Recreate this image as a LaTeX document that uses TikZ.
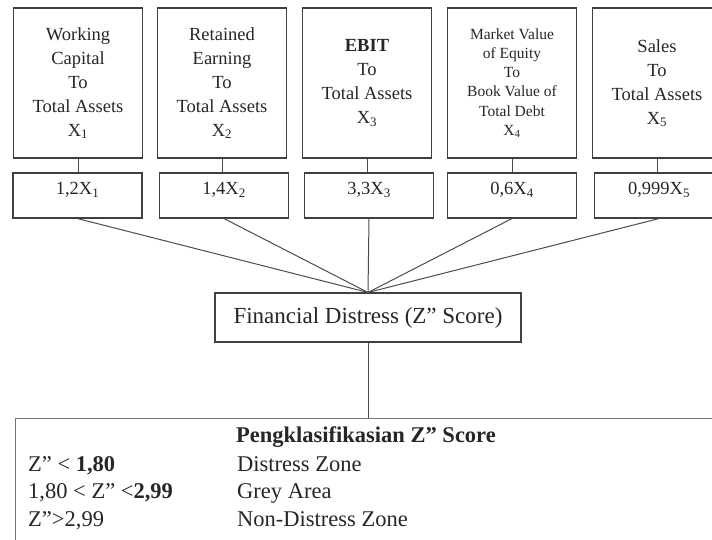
\documentclass[tikz,border=0pt]{standalone}
\usepackage{fontspec}
\setmainfont{Liberation Serif}
\begin{document}
\begin{tikzpicture}[x=1pt,y=-1pt,
  boxline/.style={draw=black!75, line width=1.1pt},
  topbox/.style={boxline, minimum width=129pt, minimum height=150pt, align=center,
    inner sep=0pt, text=black!85, font=\fontsize{18.5}{24}\selectfont},
  smallfont/.style={font=\fontsize{15.5}{19.2}\selectfont},
  valbox/.style={boxline, minimum width=129pt, minimum height=45pt, inner sep=0pt,
    text height=13pt, text depth=15pt, text=black!85, font=\fontsize{18.5}{24}\selectfont},
  fdbox/.style={boxline, minimum width=306pt, minimum height=49pt, inner sep=0pt,
    text=black!85, font=\fontsize{23}{28}\selectfont},
  tablebox/.style={draw=black!55, line width=1pt, minimum width=715pt, minimum height=142pt, inner sep=0pt},
  tabtext/.style={anchor=base west, inner sep=0pt, text=black!85, font=\fontsize{22.5}{27}\selectfont},
  conn/.style={draw=black!70, line width=1pt}
]
\useasboundingbox (0,0) rectangle (712,539);
\clip (0,0) rectangle (712,539);

% top boxes
\node[topbox] (b1) at (78,83) {Working\\Capital\\To\\Total Assets\\X\textsubscript{1}};
\node[topbox] (b2) at (222,83) {Retained\\Earning\\To\\Total Assets\\X\textsubscript{2}};
\node[topbox] (b3) at (367,83) {\textbf{EBIT}\\To\\Total Assets\\X\textsubscript{3}};
\node[topbox, smallfont] (b4) at (512,83) {Market Value\\of Equity\\To\\Book Value of\\Total Debt\\X\textsubscript{4}};
\node[topbox] (b5) at (657,83) {Sales\\To\\Total Assets\\X\textsubscript{5}};

% value boxes
\node[valbox] (s1) at (77.5,195.5) {1,2X\textsubscript{1}};
\node[valbox] (s2) at (224,195.5) {1,4X\textsubscript{2}};
\node[valbox] (s3) at (369,195.5) {3,3X\textsubscript{3}};
\node[valbox] (s4) at (512,195.5) {0,6X\textsubscript{4}};
\node[valbox] (s5) at (659,195.5) {0,999X\textsubscript{5}};

% financial distress box
\node[fdbox] (fd) at (368,317.5) {Financial Distress (Z'' Score)};

% classification table
\node[tablebox] (tbl) at (372.5,489) {};
\node[tabtext, anchor=base, font=\bfseries\fontsize{22.5}{27}\selectfont] (ttl) at (366,442) {Pengklasifikasian Z'' Score};
\node[tabtext] (r1a) at (28,471) {Z'' < \textbf{1,80}};
\node[tabtext] (r1b) at (237,471) {Distress Zone};
\node[tabtext] (r2a) at (28,498) {1,80 < Z'' <\textbf{2,99}};
\node[tabtext] (r2b) at (237,498) {Grey Area};
\node[tabtext] (r3a) at (28,526) {Z''>2,99};
\node[tabtext] (r3b) at (237,526) {Non-Distress Zone};

% connectors
\foreach \i in {1,...,5} {
  \draw[conn] (b\i.south) -- (b\i.south |- s\i.north);
  \draw[conn] (s\i.south) -- (fd.north);
}
\draw[conn] (fd.south) -- (fd.south |- tbl.north);
\end{tikzpicture}
\end{document}
